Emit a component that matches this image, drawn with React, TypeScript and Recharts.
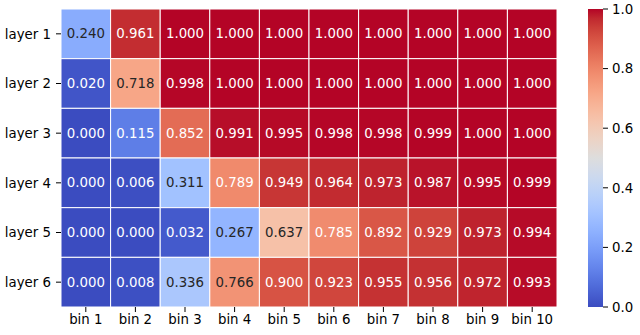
import React from 'react';
import { ScatterChart, Scatter, XAxis, YAxis, BarChart, Bar } from 'recharts';

const bins = ['bin 1', 'bin 2', 'bin 3', 'bin 4', 'bin 5', 'bin 6', 'bin 7', 'bin 8', 'bin 9', 'bin 10'];
const layers = ['layer 1', 'layer 2', 'layer 3', 'layer 4', 'layer 5', 'layer 6'];

const layer1 = [0.240, 0.961, 1.000, 1.000, 1.000, 1.000, 1.000, 1.000, 1.000, 1.000];
const layer2 = [0.020, 0.718, 0.998, 1.000, 1.000, 1.000, 1.000, 1.000, 1.000, 1.000];
const layer3 = [0.000, 0.115, 0.852, 0.991, 0.995, 0.998, 0.998, 0.999, 1.000, 1.000];
const layer4 = [0.000, 0.006, 0.311, 0.789, 0.949, 0.964, 0.973, 0.987, 0.995, 0.999];
const layer5 = [0.000, 0.000, 0.032, 0.267, 0.637, 0.785, 0.892, 0.929, 0.973, 0.994];
const layer6 = [0.000, 0.008, 0.336, 0.766, 0.900, 0.923, 0.955, 0.956, 0.972, 0.993];

const colorbarTicks = [0, 0.2, 0.4, 0.6, 0.8, 1.0];

// coolwarm colormap (Moreland), 33 control points
const COOLWARM: [number, number, number][] = [
  [59, 76, 192], [68, 90, 204], [77, 104, 215], [87, 117, 225], [98, 130, 234],
  [108, 142, 241], [119, 154, 247], [130, 165, 251], [141, 176, 254], [152, 185, 255],
  [163, 194, 255], [174, 201, 253], [184, 208, 249], [194, 213, 244], [204, 217, 238],
  [213, 219, 230], [221, 221, 221], [229, 216, 209], [236, 211, 197], [241, 204, 185],
  [245, 196, 173], [247, 187, 160], [247, 177, 148], [247, 166, 135], [244, 154, 123],
  [241, 141, 111], [236, 127, 99], [229, 112, 88], [222, 96, 77], [213, 80, 66],
  [203, 62, 56], [192, 40, 47], [180, 4, 38],
];

const rgbAt = (v: number): [number, number, number] => {
  const t = Math.max(0, Math.min(1, v)) * (COOLWARM.length - 1);
  const i = Math.min(Math.floor(t), COOLWARM.length - 2);
  const f = t - i;
  const a = COOLWARM[i];
  const b = COOLWARM[i + 1];
  return [0, 1, 2].map((k) => a[k] + (b[k] - a[k]) * f) as [number, number, number];
};

const toCss = (c: number[]) => `rgb(${c.map((x) => Math.round(x)).join(',')})`;

// seaborn picks annotation colour from relative luminance
const textColor = (c: number[]) => {
  const lin = c.map((x) => {
    const s = x / 255;
    return s <= 0.03928 ? s / 12.92 : Math.pow((s + 0.055) / 1.055, 2.4);
  });
  const lum = 0.2126 * lin[0] + 0.7152 * lin[1] + 0.0722 * lin[2];
  return lum > 0.408 ? '#262626' : '#ffffff';
};

const rows = [layer1, layer2, layer3, layer4, layer5, layer6];
const cells = rows.flatMap((row, r) =>
  row.map((value, c) => ({ x: c + 0.5, y: r + 0.5, value }))
);

const W = 640;
const H = 335;
const M = { top: 9, right: 83, bottom: 0, left: 0 };
const Y_W = 61;
const X_H = 28;
const CELL_W = (W - M.left - M.right - Y_W) / bins.length;
const CELL_H = (H - M.top - M.bottom - X_H) / layers.length;

const FONT = 'DejaVu Sans, sans-serif';
const FS = 13.33;

const HeatCell = (props: any) => {
  const { cx, cy, payload } = props;
  if (cx == null || cy == null) return null;
  const col = rgbAt(payload.value);
  return (
    <g>
      <rect
        x={cx - CELL_W / 2}
        y={cy - CELL_H / 2}
        width={CELL_W}
        height={CELL_H}
        fill={toCss(col)}
        stroke="#ffffff"
        strokeWidth={1}
      />
      <text
        x={cx}
        y={cy}
        textAnchor="middle"
        dominantBaseline="central"
        fontFamily={FONT}
        fontSize={FS}
        fill={textColor(col)}
      >
        {payload.value.toFixed(3)}
      </text>
    </g>
  );
};

const tickStyle = { fontFamily: FONT, fontSize: FS, fill: '#000000' };

export default function App() {
  return (
    <div style={{ position: 'absolute', left: 0, top: 0, width: W, height: H, background: '#fff' }}>
      <div style={{ position: 'absolute', left: 0, top: 0 }}>
        <ScatterChart width={W} height={H} margin={M}>
          <XAxis
            type="number"
            dataKey="x"
            domain={[0, bins.length]}
            ticks={bins.map((_, i) => i + 0.5)}
            tickFormatter={(v: number) => bins[Math.floor(v)]}
            height={X_H}
            axisLine={false}
            tickLine={{ stroke: '#000000' }}
            tickSize={5}
            tickMargin={3}
            tick={tickStyle}
            interval={0}
            allowDataOverflow
          />
          <YAxis
            type="number"
            dataKey="y"
            domain={[0, layers.length]}
            reversed
            ticks={layers.map((_, i) => i + 0.5)}
            tickFormatter={(v: number) => layers[Math.floor(v)]}
            width={Y_W}
            axisLine={false}
            tickLine={{ stroke: '#000000' }}
            tickSize={5}
            tickMargin={5}
            tick={tickStyle}
            interval={0}
            allowDataOverflow
          />
          <Scatter data={cells} shape={HeatCell} isAnimationActive={false} />
        </ScatterChart>
      </div>
      <div style={{ position: 'absolute', left: 588, top: 0 }}>
        <BarChart
          width={52}
          height={H}
          data={[{ name: 'cbar', v: 1 }]}
          margin={{ top: M.top, right: 0, bottom: X_H, left: 0 }}
          barCategoryGap={0}
        >
          <defs>
            <linearGradient id="cbar" x1="0" y1="1" x2="0" y2="0">
              {COOLWARM.map((c, i) => (
                <stop key={i} offset={`${(i / (COOLWARM.length - 1)) * 100}%`} stopColor={toCss(c)} />
              ))}
            </linearGradient>
          </defs>
          <XAxis dataKey="name" hide />
          <YAxis
            orientation="right"
            type="number"
            domain={[0, 1]}
            ticks={colorbarTicks}
            tickFormatter={(v: number) => v.toFixed(1)}
            width={37}
            axisLine={false}
            tickLine={{ stroke: '#000000' }}
            tickSize={5}
            tickMargin={4}
            tick={tickStyle}
            interval={0}
          />
          <Bar dataKey="v" fill="url(#cbar)" isAnimationActive={false} />
        </BarChart>
      </div>
    </div>
  );
}
